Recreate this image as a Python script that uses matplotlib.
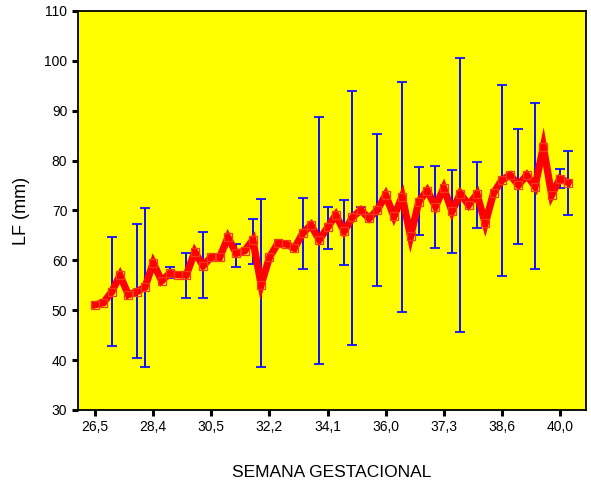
import numpy as np
import matplotlib
matplotlib.use("Agg")
import matplotlib.pyplot as plt

plt.rcParams['font.family'] = ['Liberation Sans', 'DejaVu Sans']

# Mean femur length (mm) for each gestational-week category, in order
lf_mean = [51.1, 51.5, 53.7, 57.0, 53.1, 53.7, 54.6, 59.5, 55.9, 57.4,
           57.1, 57.1, 61.7, 58.9, 60.7, 60.6, 64.6, 61.4, 61.9, 64.1,
           55.1, 60.6, 63.4, 63.3, 62.4, 65.4, 67.1, 64.1, 66.6, 69.1,
           65.8, 68.6, 70.1, 68.4, 70.1, 73.1, 68.8, 72.8, 64.8, 71.8,
           74.0, 70.8, 74.5, 69.8, 73.4, 71.1, 73.3, 67.4, 73.5, 76.1,
           77.1, 75.1, 77.1, 74.8, 82.8, 73.1, 76.4, 75.6]

# Error-bar limits (nan where a category has a single observation)
nan = np.nan
lf_low = [nan, nan, 42.8, nan, nan, 40.5, 38.7, nan, nan, 56.4,
          nan, 52.4, nan, 52.4, nan, nan, nan, 58.7, nan, 59.3,
          38.6, nan, nan, nan, nan, 58.2, nan, 39.2, 62.2, nan,
          59.1, 43.0, 69.6, nan, 54.9, nan, nan, 49.7, nan, 65.1,
          nan, 62.4, nan, 61.4, 45.7, nan, 66.4, nan, nan, 56.9,
          nan, 63.3, nan, 58.2, nan, nan, 74.6, 69.1]
lf_high = [nan, nan, 64.6, nan, nan, 67.3, 70.4, nan, nan, 58.7,
           nan, 61.4, nan, 65.6, nan, nan, nan, 63.3, nan, 68.3,
           72.3, nan, nan, nan, nan, 72.6, nan, 88.8, 70.8, nan,
           72.1, 94.0, 70.6, nan, 85.3, nan, nan, 95.7, nan, 78.7,
           nan, 78.9, nan, 78.1, 100.5, nan, 79.8, nan, nan, 95.2,
           nan, 86.3, nan, 91.5, nan, nan, 78.3, 81.9]

# Labels shown on every seventh category
week_labels = ['26,5', '28,4', '30,5', '32,2', '34,1', '36,0', '37,3', '38,6', '40,0']
label_step = 7

mean = np.array(lf_mean)
low = np.array(lf_low)
high = np.array(lf_high)
x = np.arange(len(mean))

fig = plt.figure(figsize=(5.91, 4.84), dpi=100)
ax = fig.add_axes([0.1315, 0.1529, 0.8595, 0.8244])
ax.set_facecolor('#FFFF00')

has_bar = np.isfinite(low) & np.isfinite(high)
xb = x[has_bar]
mb = mean[has_bar]
eb = ax.errorbar(xb, mb, yerr=[mb - low[has_bar], high[has_bar] - mb], fmt='none',
                 ecolor='#1010FF', elinewidth=1.3, capsize=3.4, capthick=1.3, zorder=2)
for artist in eb.lines[1] + eb.lines[2]:
    artist.set_antialiased(False)
    artist.set_snap(True)

ax.plot(x, mean, color='#FF0000', linewidth=5.2, solid_joinstyle='miter', zorder=3)
ax.plot(x, mean, linestyle='none', marker='s', markersize=6.0,
        markerfacecolor='none', markeredgecolor='#F03A1C', markeredgewidth=0.9, zorder=4)

ax.set_xlim(-2.1, len(mean) + 1.1)
ax.set_ylim(30, 110)
ax.set_yticks(np.arange(30, 111, 10))
ax.set_xticks(x[::label_step][:len(week_labels)])
ax.set_xticklabels(week_labels)

for s in ax.spines.values():
    s.set_linewidth(1.3)
    s.set_color('black')
ax.tick_params(axis='both', direction='out', length=4.5, width=2.2,
               labelsize=10, pad=3, colors='black')

ax.set_xlabel('SEMANA GESTACIONAL', fontsize=12.5)
ax.set_ylabel('LF (mm)', fontsize=13)
ax.xaxis.set_label_coords(0.5, -0.138)
ax.yaxis.set_label_coords(-0.094, 0.5)

fig.savefig('out.png', dpi=100, facecolor='white')
